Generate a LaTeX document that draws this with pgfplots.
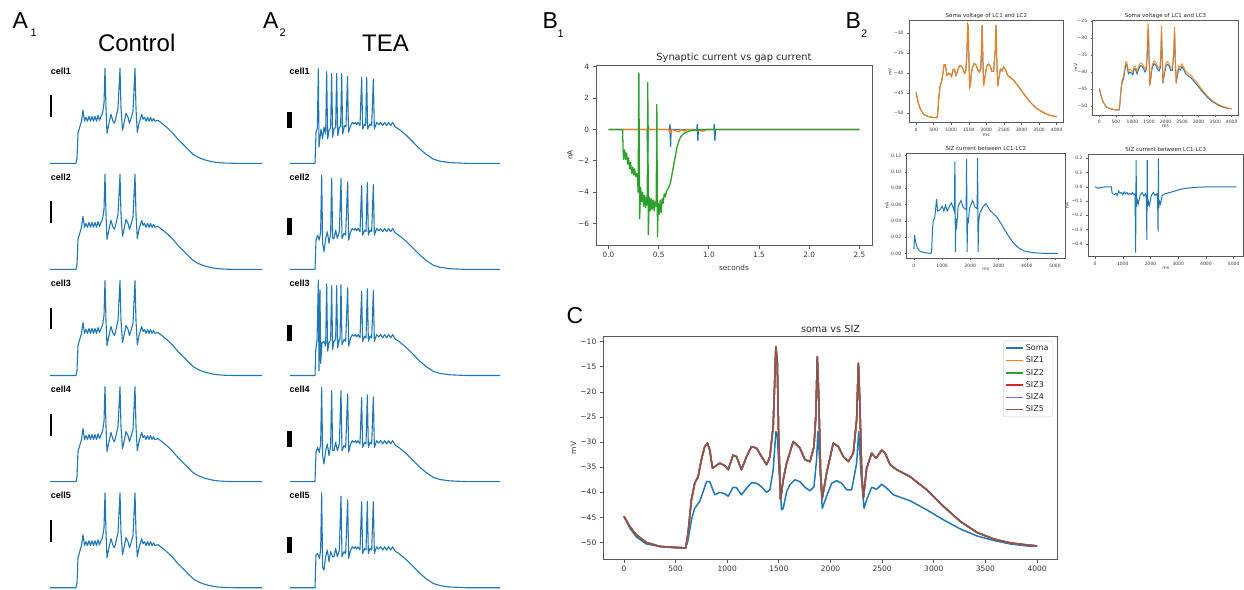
\documentclass[border=0pt]{standalone}
\usepackage{pgfplots}
\pgfplotsset{compat=1.18}
\usepackage{pgfplotstable}
\usepackage{fontspec}
\setmainfont{Liberation Sans}
\newfontfamily\mpl{DejaVu Sans}
\definecolor{c0}{HTML}{1F77B4}
\definecolor{c1}{HTML}{FF7F0E}
\definecolor{c2}{HTML}{2CA02C}
\definecolor{c3}{HTML}{D62728}
\definecolor{c4}{HTML}{9467BD}
\definecolor{c5}{HTML}{8C564B}
\definecolor{spine}{gray}{0.35}

% ---------- A: control trace (identical in all 5 cells) ----------
\pgfplotstableread{
t v
0 -51
520 -51
540 -48.9
560 -38.1
600 -35.1
630 -32.9
660 -28.2
690 -32.9
720 -31.2
750 -32.9
780 -30.8
810 -32.9
840 -30.8
870 -32.9
900 -30.8
930 -32.9
960 -30.4
990 -32.5
1020 -30.8
1050 -29.5
1080 -25.2
1100 -10.2
1120 -27.4
1140 -38.1
1180 -33.8
1220 -29.9
1260 -32.9
1290 -33.8
1320 -31.2
1360 -27.4
1400 -10.2
1420 -27.4
1450 -36.8
1480 -33.8
1520 -29.5
1560 -31.2
1590 -33.8
1620 -31.7
1660 -28.6
1700 -10.2
1720 -27.4
1746 -37.7
1780 -33.8
1834 -29.9
1860 -32.1
1890 -31.2
1920 -32.9
1950 -31.2
1980 -32.9
2010 -31.2
2040 -32.9
2070 -31.7
2100 -32.9
2160 -32.5
2260 -34.2
2360 -36.0
2460 -38.1
2560 -40.7
2660 -42.8
2760 -45.0
2860 -47.1
2960 -48.4
3060 -49.3
3160 -49.9
3260 -50.4
3360 -50.7
3500 -50.9
3700 -51
4240 -51
}\ctrl

% ---------- A: TEA traces ----------
\pgfplotstableread{
t v
0 -51
500 -51
520 -37.7
547 -36.0
567 -10.2
580 -44.0
600 -40.0
620 -36.3
650 -40.5
680 -35.5
713 -38.4
733 -11.6
753 -40.5
780 -37.0
813 -35.5
833 -12.3
853 -39.8
880 -36.3
913 -35.5
933 -12.3
953 -39.1
987 -35.5
1013 -35.2
1033 -12.3
1053 -38.4
1090 -34.8
1120 -35.2
1150 -13.7
1170 -37.7
1213 -34.8
1247 -33.4
1280 -34.1
1307 -33.4
1333 -34.4
1360 -33.4
1400 -34.8
1433 -14.0
1453 -36.3
1493 -34.1
1513 -34.8
1533 -14.0
1553 -36.3
1600 -34.1
1633 -34.8
1667 -14.8
1687 -36.3
1733 -33.4
1773 -34.4
1813 -33.4
1853 -34.8
1893 -33.4
1933 -34.8
1973 -33.4
2013 -34.8
2053 -33.4
2100 -35.2
2200 -36.7
2333 -39.1
2467 -42.0
2600 -44.9
2733 -47.3
2867 -49.2
3000 -50.1
3200 -50.7
3533 -51
4200 -51
}\teaA

\pgfplotstableread{
t v
0 -51
500 -51
520 -38.4
553 -36.3
587 -38.4
613 -34.8
633 -10.5
653 -39.8
680 -43.4
713 -37.7
747 -34.8
780 -39.8
813 -35.5
833 -11.9
853 -37.7
880 -37.7
913 -34.1
947 -37.7
987 -34.8
1020 -11.9
1040 -37.7
1080 -35.5
1113 -36.3
1153 -13.3
1173 -38.4
1213 -34.8
1247 -33.4
1280 -34.1
1307 -33.4
1333 -34.4
1360 -33.4
1400 -34.8
1433 -14.8
1453 -36.3
1493 -34.1
1520 -34.8
1547 -13.7
1567 -36.3
1600 -34.1
1633 -34.8
1667 -14.5
1687 -36.3
1733 -33.4
1773 -34.4
1813 -33.4
1853 -34.8
1893 -33.4
1933 -34.8
1973 -33.4
2013 -34.8
2053 -33.4
2100 -35.2
2200 -36.7
2333 -39.1
2467 -42.0
2600 -44.9
2733 -47.3
2867 -49.2
3000 -50.1
3200 -50.7
3533 -51
4200 -51
}\teaB

\pgfplotstableread{
t v
0 -51
500 -51
515 -40.0
540 -36.0
567 -10.0
580 -49.0
590 -38.0
600 -14.2
613 -45.8
640 -37.0
680 -36.3
713 -38.4
733 -11.6
753 -40.5
780 -37.0
813 -35.5
833 -12.3
853 -39.8
880 -36.3
913 -35.5
933 -12.3
953 -39.1
987 -35.5
1000 -35.2
1020 -11.9
1040 -37.7
1080 -35.5
1113 -36.3
1153 -13.3
1173 -38.4
1213 -34.8
1247 -33.4
1280 -34.1
1307 -33.4
1333 -34.4
1360 -33.4
1400 -34.8
1433 -14.8
1453 -36.3
1493 -34.1
1520 -34.8
1547 -13.7
1567 -36.3
1600 -34.1
1633 -34.8
1667 -14.5
1687 -36.3
1733 -33.4
1773 -34.4
1813 -33.4
1853 -34.8
1893 -33.4
1933 -34.8
1973 -33.4
2013 -34.8
2053 -33.4
2100 -35.2
2200 -36.7
2333 -39.1
2467 -42.0
2600 -44.9
2733 -47.3
2867 -49.2
3000 -50.1
3200 -50.7
3533 -51
4200 -51
}\teaC

\pgfplotstableread{
t v
0 -51
500 -51
520 -36.8
553 -36.3
587 -38.4
613 -34.8
633 -10.2
653 -42.4
680 -43.4
713 -37.7
747 -34.8
780 -39.8
813 -35.5
853 -37.7
880 -37.7
913 -34.1
947 -37.7
987 -34.8
1020 -11.6
1040 -37.7
1080 -35.5
1113 -36.3
1153 -13.2
1173 -38.4
1213 -34.8
1247 -33.4
1280 -34.1
1307 -33.4
1333 -34.4
1360 -33.4
1400 -34.8
1433 -14.0
1453 -36.3
1493 -34.1
1520 -34.8
1547 -13.8
1567 -36.3
1600 -34.1
1633 -34.8
1667 -14.0
1687 -36.3
1733 -33.4
1773 -34.4
1813 -33.4
1853 -34.8
1893 -33.4
1933 -34.8
1973 -33.4
2013 -34.8
2053 -33.4
2100 -35.2
2200 -36.7
2333 -39.1
2467 -42.0
2600 -44.9
2733 -47.3
2867 -49.2
3000 -50.1
3200 -50.7
3533 -51
4200 -51
}\teaD

% ---------- B1 ----------
\pgfplotstableread{
t i
0 0
0.385 0
0.390 -1.45
0.395 0.30
0.400 0
0.608 0
0.613 0.35
0.618 -1.10
0.623 0
0.880 0
0.885 0.35
0.890 -0.70
0.895 0
1.050 0
1.055 0.35
1.060 -0.70
1.065 0
2.5 0
}\bblue

\pgfplotstableread{
t i
0 0
0.380 0
0.390 -0.15
0.400 0
0.600 0
0.612 -0.20
0.630 0
0.700 -0.15
0.720 0
0.760 -0.10
0.780 0
0.950 -0.10
0.970 0
2.5 0
}\borange

\pgfplotstableread{
t i
0 0
0.140 0
0.145 -1.3
0.150 -1.9
0.160 -1.3
0.170 -1.9
0.180 -1.5
0.190 -2.2
0.200 -1.8
0.210 -2.5
0.220 -2.1
0.230 -2.8
0.240 -2.4
0.250 -2.9
0.260 -2.5
0.270 -3.0
0.280 -2.8
0.290 -3.2
0.295 -4.0
0.302 3.6
0.310 -5.7
0.320 -3.7
0.330 -4.6
0.340 -4.0
0.350 -4.9
0.360 -4.2
0.370 -5.0
0.380 -4.3
0.386 -4.8
0.391 3.0
0.397 -6.7
0.405 -4.3
0.415 -5.2
0.425 -4.4
0.435 -5.1
0.445 -4.5
0.455 -5.2
0.465 -4.6
0.475 -4.9
0.481 1.6
0.488 -6.85
0.495 -4.7
0.505 -5.4
0.515 -4.5
0.525 -5.3
0.535 -4.4
0.545 -4.7
0.555 -4.1
0.565 -4.3
0.580 -3.9
0.600 -3.7
0.620 -3.3
0.640 -2.6
0.660 -1.9
0.680 -1.2
0.700 -0.75
0.720 -0.45
0.750 -0.25
0.800 -0.10
0.850 -0.05
0.900 -0.02
1.000 0
2.5 0
}\bgreen

% ---------- soma / SIZ ----------
\pgfplotstableread{
t v
0 -44.8
55 -47.1
120 -48.9
217 -50.3
346 -50.8
508 -51.1
598 -51.1
621 -49.5
653 -45.5
685 -43.2
734 -41.8
766 -39.9
799 -37.9
831 -37.9
879 -40.5
928 -40.0
976 -40.3
1009 -40.8
1057 -39.0
1090 -39.1
1138 -40.5
1187 -39.2
1235 -38.1
1284 -38.2
1332 -38.9
1381 -40.0
1413 -39.5
1445 -35.5
1471 -27.9
1484 -28.3
1503 -36.2
1526 -43.5
1542 -43.2
1575 -39.9
1607 -38.5
1655 -37.5
1704 -37.9
1752 -39.0
1801 -39.7
1840 -38.9
1865 -33.5
1878 -27.9
1898 -34.9
1920 -43.2
1962 -40.8
2011 -38.2
2059 -37.7
2108 -38.2
2156 -39.5
2205 -39.5
2253 -34.2
2273 -27.9
2295 -36.2
2325 -43.2
2350 -41.5
2399 -39.0
2447 -39.4
2496 -38.4
2545 -39.2
2609 -40.5
2771 -41.7
2932 -43.5
3094 -45.5
3256 -47.3
3417 -48.7
3579 -49.6
3741 -50.3
3902 -50.7
4000 -50.8
}\soma

\pgfplotstableread{
t v
0 -44.8
55 -47.1
120 -48.9
217 -50.3
346 -50.8
508 -51.1
598 -51.1
621 -49.3
653 -45.0
685 -42.6
734 -41.0
766 -39.0
799 -37.0
831 -37.0
879 -39.7
928 -39.2
976 -39.5
1009 -40.0
1057 -38.2
1090 -38.3
1138 -39.7
1187 -38.4
1235 -37.3
1284 -37.4
1332 -38.1
1381 -39.2
1413 -38.7
1445 -34.5
1471 -26.0
1484 -26.5
1503 -35.4
1526 -43.6
1542 -43.2
1575 -39.1
1607 -37.7
1655 -36.7
1704 -37.1
1752 -38.2
1801 -38.9
1840 -38.1
1865 -32.6
1878 -26.3
1898 -34.0
1920 -43.4
1962 -40.0
2011 -37.4
2059 -36.9
2108 -37.4
2156 -38.7
2205 -38.7
2253 -33.3
2273 -26.6
2295 -35.4
2325 -43.4
2350 -40.7
2399 -38.2
2447 -38.6
2496 -37.6
2545 -38.4
2609 -39.7
2771 -41.0
2932 -42.9
3094 -45.0
3256 -46.9
3417 -48.4
3579 -49.4
3741 -50.1
3902 -50.6
4000 -50.8
}\lcthree

\pgfplotstableread{
t v
0 -44.8
55 -46.8
120 -48.5
217 -50.0
346 -50.8
598 -51.1
621 -48.1
653 -41.5
685 -38.2
718 -36.9
750 -33.5
782 -30.9
808 -30.2
831 -31.6
857 -35.2
879 -34.9
928 -34.2
976 -34.7
1009 -35.5
1057 -32.6
1090 -32.9
1138 -35.5
1187 -32.9
1235 -30.9
1284 -31.2
1332 -32.9
1381 -34.5
1413 -32.9
1445 -26.9
1471 -11.0
1484 -13.6
1497 -28.2
1516 -41.5
1542 -37.5
1575 -34.2
1639 -29.9
1704 -31.2
1752 -33.5
1801 -33.9
1840 -30.9
1859 -24.3
1872 -13.0
1885 -20.3
1904 -36.2
1920 -41.2
1962 -36.2
2027 -30.2
2076 -30.9
2124 -32.9
2173 -33.9
2221 -32.2
2253 -25.6
2270 -14.3
2283 -21.6
2302 -36.2
2318 -41.2
2350 -35.2
2399 -32.2
2441 -33.2
2496 -31.6
2528 -32.2
2577 -34.5
2641 -35.5
2771 -36.9
2932 -39.5
3094 -42.8
3256 -45.8
3417 -48.0
3579 -49.3
3741 -50.1
3902 -50.5
4000 -50.7
}\siz

\pgfplotstableread{
t i
0 0.005
20 0.023
60 0.014
120 0.007
200 0.003
350 0.001
600 0.000
627 0.002
660 0.030
686 0.040
740 0.044
804 0.067
840 0.052
900 0.053
950 0.055
1005 0.058
1060 0.052
1120 0.059
1180 0.052
1276 0.059
1330 0.062
1394 0.056
1430 0.052
1454 0.113
1470 0.002
1490 0.043
1520 0.035
1570 0.058
1667 0.065
1730 0.058
1790 0.055
1850 0.054
1868 0.116
1885 0.002
1905 0.044
1925 0.037
1970 0.055
2080 0.065
2160 0.057
2240 0.055
2258 0.117
2275 0.002
2300 0.041
2340 0.050
2459 0.058
2553 0.061
2695 0.053
2931 0.045
3100 0.036
3300 0.024
3500 0.014
3700 0.007
3900 0.003
4200 0.001
4600 0.000
5100 0.000
}\sizab

\pgfplotstableread{
t i
0 0.000
100 -0.010
200 -0.005
400 0.000
590 0.000
610 -0.040
650 -0.050
700 -0.055
750 -0.045
800 -0.060
850 -0.030
900 -0.045
950 -0.040
1000 -0.055
1050 -0.035
1100 -0.050
1150 -0.040
1200 -0.055
1250 -0.045
1300 -0.055
1350 -0.040
1400 -0.055
1440 -0.050
1464 -0.461
1480 0.188
1495 -0.140
1520 -0.090
1560 -0.120
1620 -0.060
1700 -0.040
1760 -0.065
1820 -0.050
1850 -0.080
1868 -0.372
1882 0.188
1895 -0.140
1920 -0.100
1960 -0.130
2030 -0.060
2100 -0.040
2160 -0.060
2230 -0.050
2255 -0.080
2271 -0.314
2285 0.200
2298 -0.150
2320 -0.100
2360 -0.120
2420 -0.060
2500 -0.050
2600 -0.045
2798 -0.034
3000 -0.022
3200 -0.012
3512 -0.006
3800 -0.002
4200 0.000
5100 0.000
}\sizac

\pgfplotsset{
  acell/.style={scale only axis, hide axis, clip=false, anchor=south west,
    height=95pt, xmin=0, ymin=-51, ymax=-10.15},
  trace/.style={c0, line width=1.1pt, line join=round},
  mpl/.style={scale only axis, anchor=south west, axis line style={spine, line width=0.8pt},
    tick align=outside, xtick pos=bottom, ytick pos=left, major tick length=3.5pt,
    every tick/.style={spine, line width=0.8pt}, scaled ticks=false,
    /pgf/number format/assume math mode=true, /pgf/number format/1000 sep={},
    tick label style={text=black!80},
    every axis title/.style={at={(0.5,1)}, anchor=base, yshift=4pt, text=black!85}},
  mplsmall/.style={mpl, axis line style={spine, line width=0.5pt}, major tick length=2pt,
    every tick/.style={spine, line width=0.5pt},
    tick label style={font=\mpl\fontsize{4.5}{5}\selectfont, text=black!80},
    every axis title/.style={at={(0.5,1)}, anchor=base, yshift=3pt, text=black!85,
      font=\mpl\fontsize{5.5}{6}\selectfont}},
  smalllabels/.style 2 args={
    every axis x label/.style={at={(rel axis cs:0.5,0)}, anchor=center, yshift=#1,
      font=\mpl\fontsize{4.5}{5}\selectfont, text=black!80},
    every axis y label/.style={at={(rel axis cs:0,0.5)}, anchor=center, xshift=#2, rotate=90,
      font=\mpl\fontsize{4.5}{5}\selectfont, text=black!80}},
}

\begin{document}
\begin{tikzpicture}
\useasboundingbox (0pt,0pt) rectangle (1244pt,-589pt);

% ================= Panel A1 (Control) =================
\node[anchor=base west, inner sep=0pt, font=\fontsize{23}{23}\selectfont] at (12.5pt,-28.3pt) {A};
\node[anchor=base west, inner sep=0pt, font=\fontsize{11}{11}\selectfont] at (30.5pt,-36.5pt) {1};
\node[anchor=base, inner sep=0pt, font=\fontsize{24}{24}\selectfont] at (136.7pt,-51.7pt) {Control};

\begin{axis}[acell, at={(50pt,-163.3pt)}, width=212pt, xmax=4240]
\addplot[trace] table[x=t,y=v] {\ctrl};
\addplot[black, line width=2.5pt] coordinates {(20,-31.2) (20,-21.8)};
\end{axis}
\begin{axis}[acell, at={(50pt,-269.4pt)}, width=212pt, xmax=4240]
\addplot[trace] table[x=t,y=v] {\ctrl};
\addplot[black, line width=2.5pt] coordinates {(20,-31.2) (20,-21.8)};
\end{axis}
\begin{axis}[acell, at={(50pt,-375.5pt)}, width=212pt, xmax=4240]
\addplot[trace] table[x=t,y=v] {\ctrl};
\addplot[black, line width=2.5pt] coordinates {(20,-31.2) (20,-21.8)};
\end{axis}
\begin{axis}[acell, at={(50pt,-481.6pt)}, width=212pt, xmax=4240]
\addplot[trace] table[x=t,y=v] {\ctrl};
\addplot[black, line width=2.5pt] coordinates {(20,-31.2) (20,-21.8)};
\end{axis}
\begin{axis}[acell, at={(50pt,-587.7pt)}, width=212pt, xmax=4240]
\addplot[trace] table[x=t,y=v] {\ctrl};
\addplot[black, line width=2.5pt] coordinates {(20,-31.2) (20,-21.8)};
\end{axis}

\foreach \k/\yy in {1/74.3, 2/180.4, 3/286.5, 4/392.6, 5/498.7} {
  \node[anchor=base west, inner sep=0pt, font=\bfseries\fontsize{9}{9}\selectfont] at (50.7pt,-\yy pt) {cell\k};
  \node[anchor=base west, inner sep=0pt, font=\bfseries\fontsize{9}{9}\selectfont] at (289.3pt,-\yy pt) {cell\k};
}

% ================= Panel A2 (TEA) =================
\node[anchor=base west, inner sep=0pt, font=\fontsize{23}{23}\selectfont] at (263pt,-28.3pt) {A};
\node[anchor=base west, inner sep=0pt, font=\fontsize{11}{11}\selectfont] at (279.5pt,-36.5pt) {2};
\node[anchor=base, inner sep=0pt, font=\fontsize{24}{24}\selectfont] at (385.5pt,-51.7pt) {TEA};

\begin{axis}[acell, at={(290pt,-163.3pt)}, width=210pt, xmax=4200]
\addplot[trace] table[x=t,y=v] {\teaA};
\addplot[black, line width=4.5pt] coordinates {(-10,-36.0) (-10,-29.1)};
\end{axis}
\begin{axis}[acell, at={(290pt,-269.4pt)}, width=210pt, xmax=4200]
\addplot[trace] table[x=t,y=v] {\teaB};
\addplot[black, line width=4.5pt] coordinates {(-10,-36.0) (-10,-29.1)};
\end{axis}
\begin{axis}[acell, at={(290pt,-375.5pt)}, width=210pt, xmax=4200]
\addplot[trace] table[x=t,y=v] {\teaC};
\addplot[black, line width=4.5pt] coordinates {(-10,-36.0) (-10,-29.1)};
\end{axis}
\begin{axis}[acell, at={(290pt,-481.6pt)}, width=210pt, xmax=4200]
\addplot[trace] table[x=t,y=v] {\teaB};
\addplot[black, line width=4.5pt] coordinates {(-10,-36.0) (-10,-29.1)};
\end{axis}
\begin{axis}[acell, at={(290pt,-587.7pt)}, width=210pt, xmax=4200]
\addplot[trace] table[x=t,y=v] {\teaD};
\addplot[black, line width=4.5pt] coordinates {(-10,-36.0) (-10,-29.1)};
\end{axis}

% ================= Panel B1 =================
\node[anchor=base west, inner sep=0pt, font=\fontsize{23}{23}\selectfont] at (542.5pt,-28.3pt) {B};
\node[anchor=base west, inner sep=0pt, font=\fontsize{11}{11}\selectfont] at (557.5pt,-37pt) {1};

\begin{axis}[mpl, at={(596pt,-245pt)}, width=275.9pt, height=180pt,
  xmin=-0.125, xmax=2.625, ymin=-7.37, ymax=4.12,
  xtick={0,0.5,1,1.5,2,2.5}, xticklabels={0.0,0.5,1.0,1.5,2.0,2.5},
  ytick={-6,-4,-2,0,2,4}, yticklabels={−6,−4,−2,0,2,4},
  tick label style={font=\mpl\fontsize{7.3}{8}\selectfont},
  title={Synaptic current vs gap current},
  title style={font=\mpl\fontsize{9.8}{11}\selectfont},
  xlabel={seconds}, ylabel={nA},
  every axis x label/.style={at={(rel axis cs:0.5,0)}, anchor=center, yshift=-22.7pt,
    font=\mpl\fontsize{7.3}{8}\selectfont, text=black!80},
  every axis y label/.style={at={(rel axis cs:0,0.5)}, anchor=center, xshift=-26pt, rotate=90,
    font=\mpl\fontsize{7.3}{8}\selectfont, text=black!80}]
\addplot[c0, line width=1.3pt] table[x=t,y=i] {\bblue};
\addplot[c1, line width=1.3pt] table[x=t,y=i] {\borange};
\addplot[c2, line width=1.3pt, line join=round] table[x=t,y=i] {\bgreen};
\end{axis}

% ================= Panel B2 =================
\node[anchor=base west, inner sep=0pt, font=\fontsize{23}{23}\selectfont] at (845.5pt,-28.3pt) {B};
\node[anchor=base west, inner sep=0pt, font=\fontsize{11}{11}\selectfont] at (861pt,-37pt) {2};

\begin{axis}[mplsmall, smalllabels={-12.5pt}{-19pt}, at={(909pt,-122.7pt)}, width=154.7pt, height=102pt,
  xmin=-200, xmax=4200, ymin=-52.35, ymax=-26.85,
  xtick={0,500,1000,1500,2000,2500,3000,3500,4000},
  xticklabels={0,500,1000,1500,2000,2500,3000,3500,4000},
  ytick={-50,-45,-40,-35,-30}, yticklabels={−50,−45,−40,−35,−30},
  title={Soma voltage of LC1 and LC2}, xlabel={ms}, ylabel={mV}]
\addplot[c0, line width=1pt] table[x=t,y=v] {\soma};
\addplot[c1, line width=1pt] table[x=t,y=v] {\soma};
\end{axis}

\begin{axis}[mplsmall, smalllabels={-11.5pt}{-17pt}, at={(1092.7pt,-115pt)}, width=145.6pt, height=95pt,
  xmin=-200, xmax=4200, ymin=-52.6, ymax=-24.7,
  xtick={0,500,1000,1500,2000,2500,3000,3500,4000},
  xticklabels={0,500,1000,1500,2000,2500,3000,3500,4000},
  ytick={-50,-45,-40,-35,-30,-25}, yticklabels={−50,−45,−40,−35,−30,−25},
  title={Soma voltage of LC1 and LC3}, xlabel={ms}, ylabel={mV}]
\addplot[c0, line width=1pt] table[x=t,y=v] {\soma};
\addplot[c1, line width=1pt, opacity=0.85] table[x=t,y=v] {\lcthree};
\end{axis}

\begin{axis}[mplsmall, smalllabels={-10.5pt}{-19.7pt}, at={(906.7pt,-258.3pt)}, width=158.3pt, height=105pt,
  xmin=-255, xmax=5355, ymin=-0.006, ymax=0.123,
  xtick={0,1000,2000,3000,4000,5000}, xticklabels={0,1000,2000,3000,4000,5000},
  ytick={0,0.02,0.04,0.06,0.08,0.10,0.12},
  yticklabels={0.00,0.02,0.04,0.06,0.08,0.10,0.12},
  title={SIZ current between LC1-LC2}, xlabel={ms}, ylabel={nA}]
\addplot[c0, line width=1pt] table[x=t,y=i] {\sizab};
\end{axis}

\begin{axis}[mplsmall, smalllabels={-11.6pt}{-21pt}, at={(1088pt,-256.7pt)}, width=155.5pt, height=102.7pt,
  xmin=-255, xmax=5355, ymin=-0.49, ymax=0.23,
  xtick={0,1000,2000,3000,4000,5000}, xticklabels={0,1000,2000,3000,4000,5000},
  ytick={-0.4,-0.3,-0.2,-0.1,0,0.1,0.2},
  yticklabels={−0.4,−0.3,−0.2,−0.1,0.0,0.1,0.2},
  title={SIZ current between LC1-LC3}, xlabel={ms}, ylabel={nA}]
\addplot[c0, line width=1pt] table[x=t,y=i] {\sizac};
\end{axis}

% ================= Panel C =================
\node[anchor=base west, inner sep=0pt, font=\fontsize{23}{23}\selectfont] at (566.5pt,-323.5pt) {C};

\begin{axis}[mpl, at={(603.3pt,-559pt)}, width=454.4pt, height=222.3pt,
  xmin=-200, xmax=4200, ymin=-53.3, ymax=-9.0,
  xtick={0,500,1000,1500,2000,2500,3000,3500,4000},
  xticklabels={0,500,1000,1500,2000,2500,3000,3500,4000},
  ytick={-50,-45,-40,-35,-30,-25,-20,-15,-10},
  yticklabels={−50,−45,−40,−35,−30,−25,−20,−15,−10},
  tick label style={font=\mpl\fontsize{7.5}{8}\selectfont},
  title={soma vs SIZ}, title style={font=\mpl\fontsize{9.7}{11}\selectfont},
  ylabel={mV},
  every axis y label/.style={at={(rel axis cs:0,0.5)}, anchor=center, xshift=-30pt, rotate=90,
    font=\mpl\fontsize{7.5}{8}\selectfont, text=black!80},
  legend cell align=left,
  legend image code/.code={\draw[#1, line width=1.5pt] (0pt,0pt) -- (17pt,0pt);},
  legend style={at={(0.989,0.982)}, anchor=north east, draw=black!18, rounded corners=2pt,
    fill=white, inner xsep=2pt, inner ysep=1.5pt, row sep=0.8pt,
    font=\mpl\fontsize{8}{9}\selectfont, text=black!85,
    nodes={text height=6pt, text depth=1.5pt, inner sep=2pt}}]
\addplot[c0, line width=1.5pt, line join=round] table[x=t,y=v] {\soma};
\addlegendentry{Soma}
\addplot[c1, line width=1.5pt, line join=round] table[x=t,y=v] {\siz};
\addlegendentry{SIZ1}
\addplot[c2, line width=1.5pt, line join=round] table[x=t,y=v] {\siz};
\addlegendentry{SIZ2}
\addplot[c3, line width=1.5pt, line join=round] table[x=t,y=v] {\siz};
\addlegendentry{SIZ3}
\addplot[c4, line width=1.5pt, line join=round] table[x=t,y=v] {\siz};
\addlegendentry{SIZ4}
\addplot[c5, line width=1.5pt, line join=round] table[x=t,y=v] {\siz};
\addlegendentry{SIZ5}
\end{axis}

\end{tikzpicture}
\end{document}
